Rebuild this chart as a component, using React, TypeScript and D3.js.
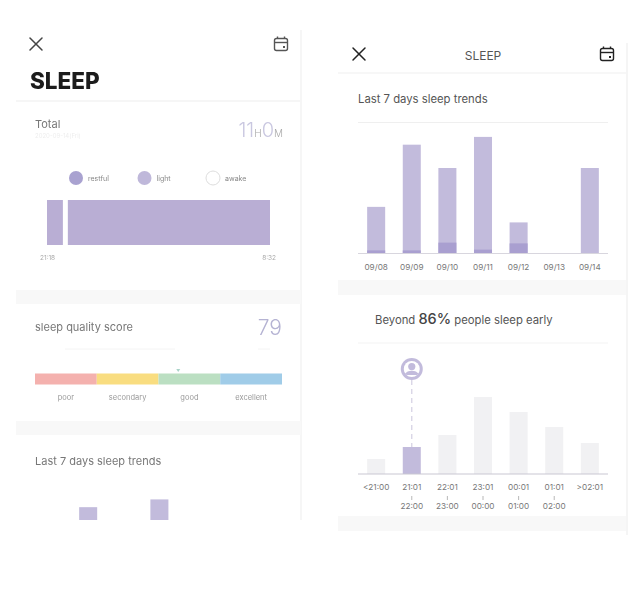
import { scaleBand, scaleLinear } from "d3";
import React from "react";

// last 7 days, hours slept
const days = ["09/08", "09/09", "09/10", "09/11", "09/12", "09/13", "09/14"];
const totalHours = [6, 14, 11, 15, 4, 0, 11];
const restfulHours = [0.4, 0.4, 1.4, 0.5, 1.3, 0, 0];

// bedtime distribution
const bedtimeBins = ["<21:00", "21:01", "22:01", "23:01", "00:01", "01:01", ">02:01"];
const bedtimeEnds = ["", "22:00", "23:00", "00:00", "01:00", "02:00", ""];
const bedtimeShare = [15, 27, 39, 77, 62, 47, 31];
const myBin = "21:01";

// last night, minutes after 21:18
const sleepStarts = [0, 63];
const sleepEnds = [48, 674];
const sleepTicks = ["21:18", "8:32"];

const legendLabels = ["restful", "light", "awake"];
const legendColors = ["#a9a2d0", "#bfb8da", "#ffffff"];

const scoreBands = ["poor", "secondary", "good", "excellent"];
const scoreColors = ["#f4b1ae", "#f9dd80", "#bbdfc2", "#a0cce8"];
const scoreMarker = 58;

const LIGHT = "#c2bbdc";
const DARK = "#a99fd0";
const FONT = "Inter, 'Liberation Sans', sans-serif";

const innerPad = 0.494;
const outerPad = 0.257;

const hourY = scaleLinear().domain([0, 15]).range([0, 116.6]);
const shareY = scaleLinear().domain([0, 77]).range([0, 77]);

const trendX = scaleBand<string>().domain(days).range([358, 608]).paddingInner(innerPad).paddingOuter(outerPad);
const bedX = scaleBand<string>().domain(bedtimeBins).range([358, 608]).paddingInner(innerPad).paddingOuter(outerPad);
const miniX = scaleBand<string>().domain(days).range([34.4, 284.4]).paddingInner(innerPad).paddingOuter(outerPad);
const sleepX = scaleLinear().domain([0, 674]).range([47, 270]);
const scoreX = scaleLinear().domain([0, 100]).range([35, 282]);
const legendX = scaleLinear().domain([0, 2]).range([76, 213]);

const CloseIcon: React.FC<{ x: number; y: number; s: number; color: string }> = ({ x, y, s, color }) => (
	<g transform={`translate(${x}, ${y})`} stroke={color} strokeWidth={1.5} strokeLinecap="round">
		<line x1={-s} y1={-s} x2={s} y2={s} />
		<line x1={-s} y1={s} x2={s} y2={-s} />
	</g>
);

const CalendarIcon: React.FC<{ x: number; y: number; color: string }> = ({ x, y, color }) => (
	<g transform={`translate(${x}, ${y})`} stroke={color} strokeWidth={1.4} fill="none">
		<rect x={-6.5} y={-5.5} width={13} height={12} rx={2} />
		<line x1={-6.5} x2={6.5} y1={-1.5} y2={-1.5} />
		<line x1={-3.5} x2={-3.5} y1={-7.5} y2={-5} />
		<line x1={3.5} x2={3.5} y1={-7.5} y2={-5} />
		<rect x={2} y={2} width={2} height={2} fill={color} stroke="none" />
	</g>
);

const LeftPanel = () => (
	<g filter="url(#soft)" fontFamily={FONT}>
		<rect x={300.5} y={30} width={1} height={490} fill="#eeeeee" />
		<CloseIcon x={36} y={44} s={6} color="#444" />
		<CalendarIcon x={281} y={44} color="#555" />
		<text x={30} y={89} fontSize={22.5} fontWeight={800} fill="#1c1c1c">
			SLEEP
		</text>
		<rect x={16} y={100} width={285} height={2} fill="#f6f6f6" />

		<text x={35} y={128} fontSize={11} fill="#777">
			Total
		</text>
		<text x={35} y={138} fontSize={6} fill="#eeeeee">
			2020-09-14(Fri)
		</text>
		<text x={283} y={137} textAnchor="end" fontSize={20} fontWeight={300} fill="#c9c7e0">
			11
			<tspan fontSize={10} fill="#aaa">H</tspan>
			0
			<tspan fontSize={10} fill="#aaa">M</tspan>
		</text>

		{legendLabels.map((label, i) => (
			<g key={label} transform={`translate(${legendX(i)}, 178)`}>
				<circle r={7} fill={legendColors[i]} stroke={i === 2 ? "#dddddd" : "none"} />
				<text x={12} y={2.5} fontSize={7} fill="#888">
					{label}
				</text>
			</g>
		))}
		{sleepStarts.map((start, i) => (
			<rect
				key={start}
				x={sleepX(start)}
				y={200}
				width={sleepX(sleepEnds[i]) - sleepX(start)}
				height={45}
				fill="#b9aed4"
			/>
		))}
		<text x={40} y={260} fontSize={6.5} fill="#aaa">
			{sleepTicks[0]}
		</text>
		<text x={276} y={260} textAnchor="end" fontSize={6.5} fill="#aaa">
			{sleepTicks[1]}
		</text>

		<rect x={16} y={290} width={285} height={14} fill="#f8f8f8" />
		<text x={35} y={331} fontSize={11} fill="#777">
			sleep quality score
		</text>
		<text x={282} y={335} textAnchor="end" fontSize={21} fontWeight={300} fill="#b5b3d3">
			79
		</text>
		<line x1={65} x2={175} y1={349} y2={349} stroke="#f4f4f4" />
		<line x1={258} x2={270} y1={349} y2={349} stroke="#f4f4f4" />

		{scoreBands.map((band, i) => (
			<g key={band}>
				<rect
					x={scoreX(i * 25)}
					y={373.5}
					width={scoreX(25) - scoreX(0)}
					height={11}
					fill={scoreColors[i]}
				/>
				<text x={scoreX(i * 25 + 12.5)} y={400} textAnchor="middle" fontSize={7.5} fill="#999">
					{band}
				</text>
			</g>
		))}
		<path
			transform={`translate(${scoreX(scoreMarker)}, 372)`}
			d="M-2,-3 L2,-3 L0,0 Z"
			fill="#a9d3c8"
		/>

		<rect x={16} y={421} width={285} height={14} fill="#f8f8f8" />
		<text x={35} y={465} fontSize={11} fill="#777">
			Last 7 days sleep trends
		</text>
		<g clipPath="url(#miniClip)">
			{days.map((d, i) => (
				<rect
					key={d}
					x={miniX(d)}
					y={616 - hourY(totalHours[i])}
					width={miniX.bandwidth()}
					height={hourY(totalHours[i])}
					fill={LIGHT}
				/>
			))}
		</g>
	</g>
);

const TrendChart = () => {
	const base = 253.5;
	return (
		<g>
			{days.map((d, i) => (
				<g key={d}>
					<rect
						x={trendX(d)}
						y={base - hourY(totalHours[i])}
						width={trendX.bandwidth()}
						height={hourY(totalHours[i])}
						fill={LIGHT}
					/>
					<rect
						x={trendX(d)}
						y={base - hourY(restfulHours[i])}
						width={trendX.bandwidth()}
						height={hourY(restfulHours[i])}
						fill={DARK}
					/>
					<text
						x={(trendX(d) || 0) + trendX.bandwidth() / 2}
						y={269.5}
						textAnchor="middle"
						fontSize={8.2}
						fill="#777">
						{d}
					</text>
				</g>
			))}
			<line x1={358} x2={608} y1={base} y2={base} stroke="#d8d6de" strokeWidth={1} />
		</g>
	);
};

const BedtimeChart = () => {
	const base = 474;
	const cx = (bedX(myBin) || 0) + bedX.bandwidth() / 2;
	const myShare = bedtimeShare[bedtimeBins.indexOf(myBin)];
	return (
		<g>
			{bedtimeBins.map((b, i) => {
				const mid = (bedX(b) || 0) + bedX.bandwidth() / 2;
				return (
					<g key={b}>
						<rect
							x={bedX(b)}
							y={base - shareY(bedtimeShare[i])}
							width={bedX.bandwidth()}
							height={shareY(bedtimeShare[i])}
							fill={b === myBin ? LIGHT : "#f1f1f3"}
						/>
						<text x={mid} y={490} textAnchor="middle" fontSize={8.2} fill="#777">
							{b}
						</text>
						{bedtimeEnds[i] && (
							<>
								<line x1={mid} x2={mid} y1={496} y2={500} stroke="#999" strokeWidth={0.7} />
								<text x={mid} y={509} textAnchor="middle" fontSize={8.2} fill="#777">
									{bedtimeEnds[i]}
								</text>
							</>
						)}
					</g>
				);
			})}
			<line x1={358} x2={608} y1={base} y2={base} stroke="#c9c7d2" strokeWidth={1} />
			<line
				x1={cx}
				x2={cx}
				y1={380}
				y2={base - shareY(myShare)}
				stroke="#d3cfe2"
				strokeWidth={1.2}
				strokeDasharray="5 4"
			/>
			<g transform={`translate(${cx}, 369)`}>
				<circle r={11} fill={LIGHT} />
				<circle r={8} fill="#ffffff" />
				<circle cy={-2.4} r={3.6} fill={LIGHT} />
				<path d="M-7,5 A8,6.5 0 0 1 7,5 L5,6 L-5,6 Z" fill={LIGHT} />
			</g>
		</g>
	);
};

const RightPanel = () => (
	<g fontFamily={FONT}>
		<rect x={626.5} y={43} width={1} height={492} fill="#ececec" />
		<CloseIcon x={359} y={54} s={6} color="#222" />
		<CalendarIcon x={607} y={54} color="#222" />
		<text x={483} y={59.5} textAnchor="middle" fontSize={12} fill="#555">
			SLEEP
		</text>
		<rect x={338} y={72} width={288} height={2} fill="#f7f7f7" />

		<text x={358} y={102.5} fontSize={11.3} fill="#555">
			Last 7 days sleep trends
		</text>
		<line x1={358} x2={608} y1={122.5} y2={122.5} stroke="#efefef" />
		<TrendChart />

		<rect x={338} y={280} width={288} height={15} fill="#f8f8f8" />
		<text x={375} y={324} fontSize={11.3} fill="#555">
			Beyond{" "}
			<tspan fontSize={14.5} fontWeight={500} fill="#444">
				86%
			</tspan>{" "}
			people sleep early
		</text>
		<line x1={358} x2={608} y1={343} y2={343} stroke="#f3f3f3" />
		<BedtimeChart />

		<rect x={338} y={516} width={288} height={15} fill="#f8f8f8" />
	</g>
);

export default function App() {
	return (
		<svg
			width={642}
			height={601}
			style={{ position: "absolute", left: 0, top: 0, background: "#fff" }}>
			<defs>
				<filter id="soft" x="0" y="0" width="642" height="601" filterUnits="userSpaceOnUse">
					<feGaussianBlur stdDeviation={0.7} />
				</filter>
				<clipPath id="miniClip">
					<rect x={16} y={480} width={285} height={40} />
				</clipPath>
			</defs>
			<LeftPanel />
			<RightPanel />
		</svg>
	);
}
